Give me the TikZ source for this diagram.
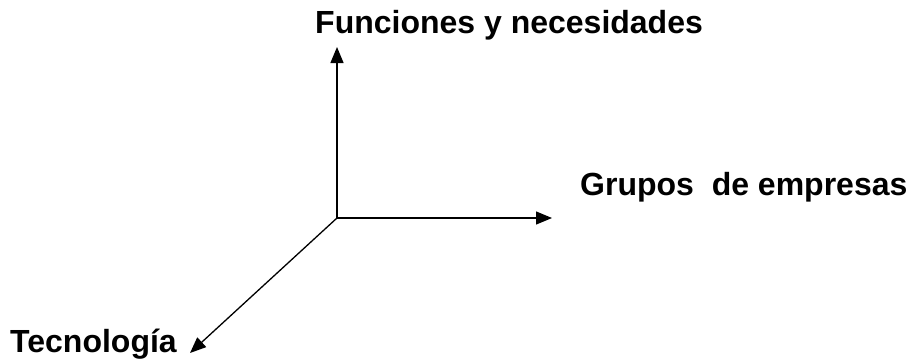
\documentclass[tikz,border=0pt]{standalone}
\usepackage{fontspec}
\setmainfont{Liberation Sans}
\usetikzlibrary{arrows.meta}
\tikzset{
  axis/.style={line width=1.3pt,-{Triangle[length=16pt,width=13pt]}},
  axislabel/.style={font=\fontsize{32}{36}\selectfont\bfseries,inner sep=0pt}
}
\begin{document}
\begin{tikzpicture}[x=1pt,y=-1pt]
                \useasboundingbox (0,0) rectangle (911,360);
                \coordinate (o) at (337,218);
                \coordinate (up) at (337,47);
                \coordinate (right) at (552,218);
                \coordinate (down) at (190,353);

                \node[axislabel,anchor=base west] (fun) at (315,33) {Funciones y necesidades};
                \node[axislabel,anchor=base west] (gru) at (580,195) {Grupos\ \ de empresas};
                \node[axislabel,anchor=base west] (tec) at (10,352) {Tecnología};

                \draw[axis] (o) -- (up);
                \draw[axis] (o) -- (right);
                \draw[axis] (o) -- (down);
            \end{tikzpicture}
\end{document}
